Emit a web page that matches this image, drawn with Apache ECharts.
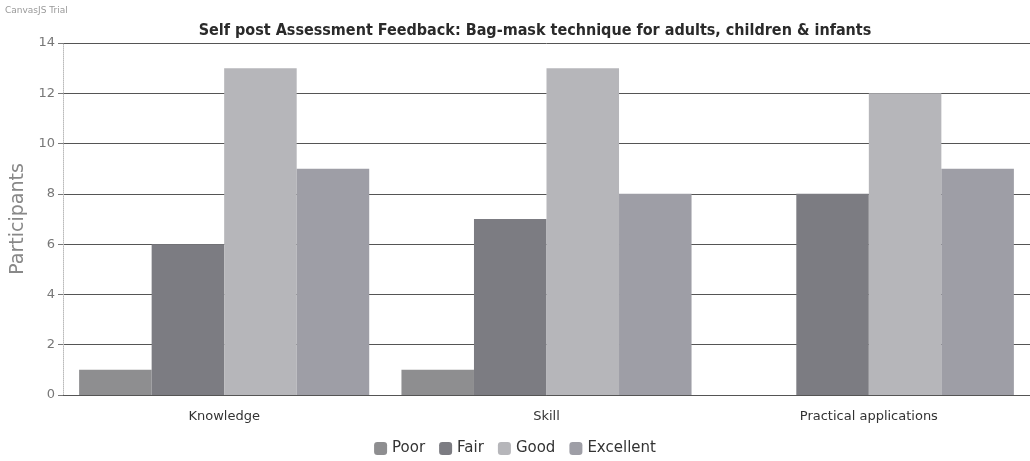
<!DOCTYPE html>
<html>
<head>
<meta charset="utf-8">
<script src="https://cdn.jsdelivr.net/npm/echarts@6/dist/echarts.min.js"></script>
<style>
html, body { margin: 0; padding: 0; background: #fff; }
#main { width: 1030px; height: 461px; }
</style>
</head>
<body>
<div id="main"></div>
<script>
var categories = ['Knowledge', 'Skill', 'Practical applications'];
var poor = [1, 1, 0];
var fair = [6, 7, 8];
var good = [13, 13, 12];
var excellent = [9, 8, 9];
var seriesNames = ['Poor', 'Fair', 'Good', 'Excellent'];
var seriesColors = ['#8e8e90', '#7c7c82', '#b6b6ba', '#9e9ea6'];

var myChart = echarts.init(document.getElementById('main'));

function bar(i, data) {
    return {
        name: seriesNames[i],
        type: 'bar',
        data: data,
        barGap: '0%',
        barCategoryGap: '10%',
        itemStyle: { color: seriesColors[i] }
    };
}

var option = {
    backgroundColor: '#fff',
    title: {
        text: 'Self post Assessment Feedback: Bag-mask technique for adults, children & infants',
        left: 530,
        textAlign: 'center',
        top: 18,
        textStyle: {
            fontFamily: 'DejaVu Sans Condensed',
            fontWeight: 'bold',
            fontSize: 16,
            color: '#2a2a2a'
        }
    },
    graphic: [{
        type: 'text',
        left: 5,
        top: 6,
        style: { text: 'CanvasJS Trial', fontSize: 9, fill: '#999', fontFamily: 'DejaVu Sans' }
    }],
    legend: {
        bottom: 0,
        left: 'center',
        itemWidth: 13,
        itemHeight: 13,
        itemGap: 14,
        textStyle: { fontSize: 15, color: '#333', fontFamily: 'DejaVu Sans' },
        data: seriesNames
    },
    grid: {
        left: 63,
        right: 0,
        top: 43,
        bottom: 66
    },
    xAxis: {
        type: 'category',
        data: categories,
        axisLine: { lineStyle: { color: '#555' } },
        axisTick: { alignWithLabel: true, length: 5, lineStyle: { color: '#555' } },
        axisLabel: { fontSize: 13, color: '#333', margin: 15, fontFamily: 'DejaVu Sans' }
    },
    yAxis: {
        type: 'value',
        min: 0,
        max: 14,
        interval: 2,
        name: 'Participants',
        nameLocation: 'middle',
        nameGap: 33,
        nameTextStyle: { fontSize: 19, color: '#888', fontFamily: 'DejaVu Sans' },
        axisLine: { show: true, lineStyle: { color: '#bbb', type: 'dotted' } },
        axisTick: { show: true, length: 5, lineStyle: { color: '#777' } },
        axisLabel: { fontSize: 13, color: '#777', margin: 8, fontFamily: 'DejaVu Sans' },
        splitLine: { lineStyle: { color: '#555', width: 1 } }
    },
    series: [
        bar(0, poor),
        bar(1, fair),
        bar(2, good),
        bar(3, excellent)
    ]
};

myChart.setOption(option);
</script>
</body>
</html>
